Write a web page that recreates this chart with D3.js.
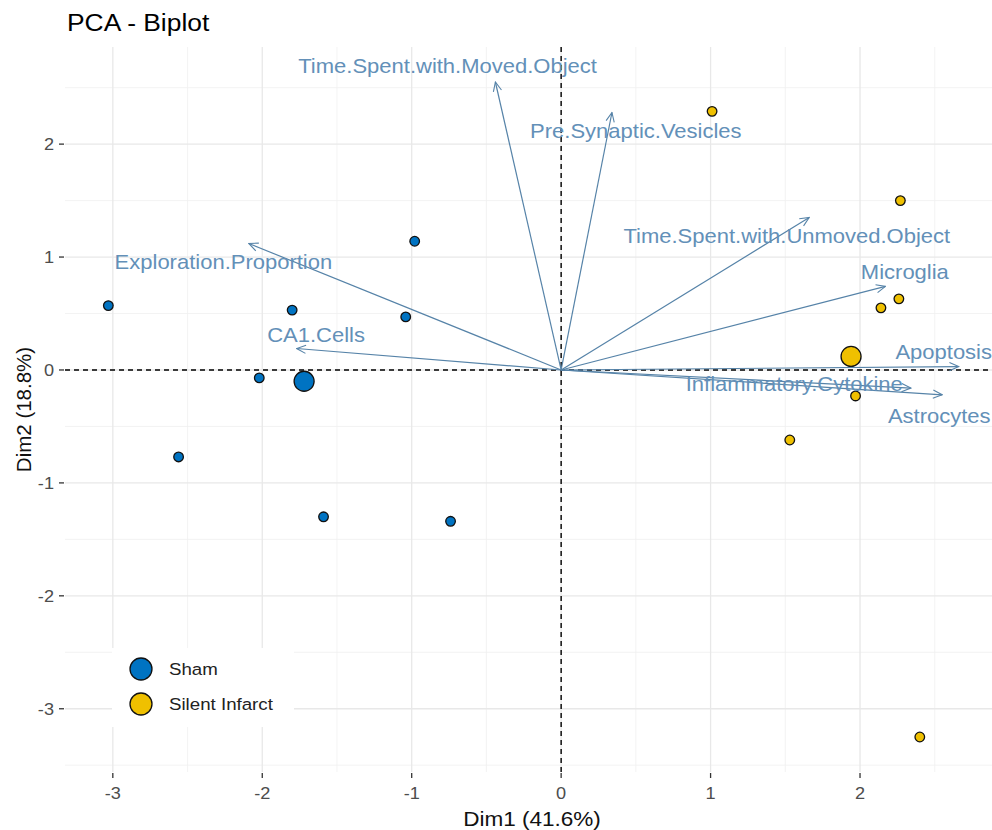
<!DOCTYPE html>
<html>
<head>
<meta charset="utf-8">
<script src="https://cdn.jsdelivr.net/npm/d3@7"></script>
<style>
  body { margin: 0; background: #fff; }
  svg { display: block; font-family: "Liberation Sans", Arial, sans-serif; }
</style>
</head>
<body>
<svg id="chart" width="992" height="830"></svg>
<script>
// individuals (Dim1, Dim2)
const shamX = [-3.03, -2.56, -2.02, -1.80, -0.98, -1.04, -1.59, -0.74];
const shamY = [0.57, -0.77, -0.07, 0.53, 1.14, 0.47, -1.30, -1.34];
const infarctX = [1.01, 2.27, 2.26, 2.14, 1.97, 1.53, 2.40];
const infarctY = [2.29, 1.50, 0.63, 0.55, -0.23, -0.62, -3.25];

// group means
const groups = ["Sham", "Silent Infarct"];
const groupColors = ["#0073C2", "#EFC000"];
const meanX = [-1.72, 1.94];
const meanY = [-0.10, 0.12];

// variables (arrow tips)
const varNames = ["Time.Spent.with.Moved.Object", "Pre.Synaptic.Vesicles", "Time.Spent.with.Unmoved.Object",
  "Microglia", "Apoptosis", "Inflammatory.Cytokine", "Astrocytes", "Exploration.Proportion", "CA1.Cells"];
const varX = [-0.44, 0.34, 1.66, 2.17, 2.66, 2.34, 2.55, -2.09, -1.77];
const varY = [2.55, 2.28, 1.35, 0.74, 0.03, -0.16, -0.22, 1.12, 0.19];
// label centres (repelled)
const labelX = [-0.76, 0.50, 1.51, 2.30, 2.56, 1.56, 2.53, -2.26, -1.64];
const labelY = [2.69, 2.12, 1.19, 0.87, 0.16, -0.12, -0.41, 0.96, 0.31];

const xTicks = [-3, -2, -1, 0, 1, 2];
const yTicks = [-3, -2, -1, 0, 1, 2];

const svg = d3.select("#chart");
const pLeft = 65, pRight = 999, pTop = 47, pBottom = 772;
const SX = 1.1; // text in the picture is a bit wide

const x = d3.scaleLinear().domain([-3.32, 2.93]).range([pLeft, pRight]);
const y = d3.scaleLinear().domain([-3.56, 2.86]).range([pBottom, pTop]);

// put text at (fx, fy) and widen it a little
function place(sel, fx, fy) {
  return sel.attr("transform", (d, i) => `translate(${fx(d, i)},${fy(d, i)}) scale(${SX},1)`);
}

const defs = svg.append("defs");
defs.append("clipPath").attr("id", "panel")
  .append("rect").attr("x", pLeft).attr("y", pTop).attr("width", pRight - pLeft).attr("height", pBottom - pTop);

defs.append("marker")
  .attr("id", "head")
  .attr("viewBox", "0 0 12 12")
  .attr("refX", 11).attr("refY", 6)
  .attr("markerWidth", 11).attr("markerHeight", 11)
  .attr("markerUnits", "userSpaceOnUse")
  .attr("orient", "auto")
  .append("path")
  .attr("d", "M1,1.5 L11,6 L1,10.5")
  .attr("fill", "none")
  .attr("stroke", "#5683a8")
  .attr("stroke-width", 1.2);

const panel = svg.append("g").attr("clip-path", "url(#panel)");

// grid
const minorX = d3.range(-3.5, 3.01, 1);
const minorY = d3.range(-3.5, 3.01, 1);
panel.selectAll(".gxm").data(minorX).enter().append("line")
  .attr("x1", d => x(d)).attr("x2", d => x(d)).attr("y1", pTop).attr("y2", pBottom)
  .attr("stroke", "#f0f0f0").attr("stroke-width", 0.8);
panel.selectAll(".gym").data(minorY).enter().append("line")
  .attr("y1", d => y(d)).attr("y2", d => y(d)).attr("x1", pLeft).attr("x2", pRight)
  .attr("stroke", "#f0f0f0").attr("stroke-width", 0.8);
panel.selectAll(".gx").data(xTicks).enter().append("line")
  .attr("x1", d => x(d)).attr("x2", d => x(d)).attr("y1", pTop).attr("y2", pBottom)
  .attr("stroke", "#e8e8e8").attr("stroke-width", 1.3);
panel.selectAll(".gy").data(yTicks).enter().append("line")
  .attr("y1", d => y(d)).attr("y2", d => y(d)).attr("x1", pLeft).attr("x2", pRight)
  .attr("stroke", "#e8e8e8").attr("stroke-width", 1.3);

// zero lines
panel.append("line").attr("x1", x(0)).attr("x2", x(0)).attr("y1", pTop).attr("y2", pBottom)
  .attr("stroke", "#000").attr("stroke-width", 1.4).attr("stroke-dasharray", "5,4");
panel.append("line").attr("y1", y(0)).attr("y2", y(0)).attr("x1", pLeft).attr("x2", pRight)
  .attr("stroke", "#000").attr("stroke-width", 1.4).attr("stroke-dasharray", "5,4");

// individuals
const pts = shamX.map((v, i) => ({ x: v, y: shamY[i], g: 0 }))
  .concat(infarctX.map((v, i) => ({ x: v, y: infarctY[i], g: 1 })));
panel.selectAll(".pt").data(pts).enter().append("circle")
  .attr("cx", d => x(d.x)).attr("cy", d => y(d.y)).attr("r", 4.8)
  .attr("fill", d => groupColors[d.g]).attr("stroke", "#111").attr("stroke-width", 1.3);

panel.selectAll(".mean").data(groups).enter().append("circle")
  .attr("cx", (d, i) => x(meanX[i])).attr("cy", (d, i) => y(meanY[i])).attr("r", 10)
  .attr("fill", (d, i) => groupColors[i]).attr("stroke", "#111").attr("stroke-width", 1.3);

// variable arrows
panel.selectAll(".arrow").data(varNames).enter().append("line")
  .attr("x1", x(0)).attr("y1", y(0))
  .attr("x2", (d, i) => x(varX[i])).attr("y2", (d, i) => y(varY[i]))
  .attr("stroke", "#5683a8").attr("stroke-width", 1.2)
  .attr("marker-end", "url(#head)");

place(panel.selectAll(".vlab").data(varNames).enter().append("text"),
    (d, i) => x(labelX[i]), (d, i) => y(labelY[i]))
  .attr("text-anchor", "middle").attr("dominant-baseline", "central")
  .attr("font-size", 20).attr("fill", "#6390b8")
  .text(d => d);

// axes ticks
svg.selectAll(".xt").data(xTicks).enter().append("line")
  .attr("x1", d => x(d)).attr("x2", d => x(d)).attr("y1", pBottom + 1).attr("y2", pBottom + 6)
  .attr("stroke", "#333").attr("stroke-width", 1.3);
place(svg.selectAll(".xl").data(xTicks).enter().append("text"), d => x(d), () => pBottom + 27)
  .attr("text-anchor", "middle").attr("font-size", 16.5).attr("fill", "#4d4d4d")
  .text(d => d);
svg.selectAll(".yt").data(yTicks).enter().append("line")
  .attr("y1", d => y(d)).attr("y2", d => y(d)).attr("x1", pLeft - 6).attr("x2", pLeft - 1)
  .attr("stroke", "#333").attr("stroke-width", 1.3);
place(svg.selectAll(".yl").data(yTicks).enter().append("text"), () => pLeft - 11, d => y(d))
  .attr("dy", "0.36em")
  .attr("text-anchor", "end").attr("font-size", 16.5).attr("fill", "#4d4d4d")
  .text(d => d);

// titles
svg.append("text")
  .attr("transform", `translate(${(pLeft + pRight) / 2},826) scale(${SX},1)`)
  .attr("text-anchor", "middle").attr("font-size", 20.5).attr("fill", "#111")
  .text("Dim1 (41.6%)");
svg.append("text").attr("transform", `translate(31,${(pTop + pBottom) / 2}) rotate(-90)`)
  .attr("text-anchor", "middle").attr("font-size", 20.5).attr("fill", "#111")
  .text("Dim2 (18.8%)");
svg.append("text").attr("transform", `translate(67,31) scale(${SX},1)`)
  .attr("font-size", 24).attr("fill", "#000")
  .text("PCA - Biplot");

// legend
const legend = svg.append("g").attr("transform", "translate(112,648)");
legend.append("rect").attr("width", 182).attr("height", 79).attr("fill", "#fff");
groups.forEach((g, i) => {
  legend.append("circle").attr("cx", 29).attr("cy", 21 + i * 35).attr("r", 11)
    .attr("fill", groupColors[i]).attr("stroke", "#111").attr("stroke-width", 1.3);
  legend.append("text").attr("transform", `translate(57,${21 + i * 35}) scale(${SX},1)`)
    .attr("dy", "0.35em")
    .attr("font-size", 17).attr("fill", "#222").text(g);
});
</script>
</body>
</html>
